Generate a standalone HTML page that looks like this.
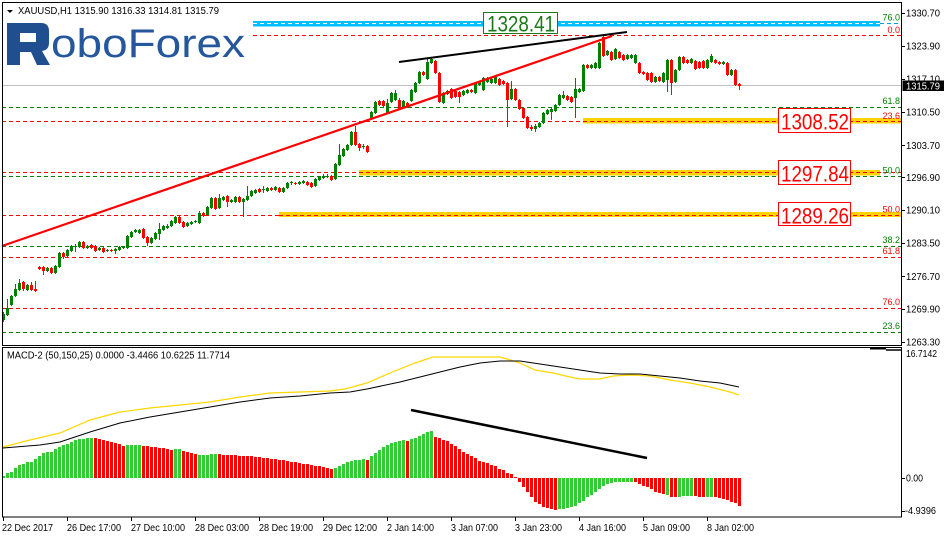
<!DOCTYPE html>
<html><head><meta charset="utf-8"><style>
html,body{margin:0;padding:0;background:#fff;}
svg{display:block;}
text{font-family:"Liberation Sans",sans-serif;}
</style></head><body>
<svg width="944" height="538" viewBox="0 0 944 538" xmlns="http://www.w3.org/2000/svg">
<rect x="0" y="0" width="944" height="538" fill="#fff"/>

<!-- fib / horizontal lines -->
<g stroke-width="1" fill="none" stroke-dasharray="4,3">
<line x1="253" y1="35.5" x2="901" y2="35.5" stroke="#ff0000"/>
<line x1="2" y1="107.5" x2="901" y2="107.5" stroke="#008000"/>
<line x1="2" y1="121.5" x2="901" y2="121.5" stroke="#ff0000"/>
<line x1="2" y1="172.5" x2="901" y2="172.5" stroke="#ff0000"/>
<line x1="2" y1="176.5" x2="901" y2="176.5" stroke="#008000"/>
<line x1="2" y1="215.5" x2="901" y2="215.5" stroke="#ff0000"/>
<line x1="2" y1="246.5" x2="901" y2="246.5" stroke="#008000"/>
<line x1="2" y1="257.5" x2="901" y2="257.5" stroke="#ff0000"/>
<line x1="2" y1="308.5" x2="901" y2="308.5" stroke="#ff0000"/>
<line x1="2" y1="332.5" x2="901" y2="332.5" stroke="#008000"/>
<line x1="880" y1="23.5" x2="901" y2="23.5" stroke="#00a0e0"/>
</g>
<line x1="2" y1="85.5" x2="901" y2="85.5" stroke="#c0c0c0" stroke-width="1"/>

<!-- yellow bands -->
<rect x="583" y="118" width="318" height="5.5" fill="#ffd200"/>
<line x1="583" y1="121.5" x2="901" y2="121.5" stroke="#ff0000" stroke-dasharray="4,3"/>
<rect x="359" y="170" width="521" height="5.5" fill="#ffd200"/>
<line x1="359" y1="172.5" x2="880" y2="172.5" stroke="#ff0000" stroke-dasharray="4,3"/>
<rect x="279" y="212" width="622" height="5" fill="#ffd200"/>
<line x1="279" y1="215.5" x2="901" y2="215.5" stroke="#ff0000" stroke-dasharray="4,3"/>

<!-- cyan band -->
<rect x="253" y="21" width="627" height="5.5" fill="#00bfff"/>
<line x1="253" y1="23.5" x2="880" y2="23.5" stroke="#ffffff" stroke-dasharray="4,3"/>

<!-- candles -->
<path fill="#008000" d="M2 314h3v6h-3zM6 308h3v7h-3zM10 296h3v9h-3zM14 289h3v7h-3zM18 283h3v7h-3zM26 285h3v5h-3zM46 268h3v3h-3zM54 266h3v7h-3zM58 253h3v14h-3zM66 250h3v6h-3zM70 246h3v5h-3zM74 246h3v1h-3zM78 242h3v5h-3zM86 246h3v2h-3zM98 248h3v2h-3zM106 250h3v1h-3zM114 249h3v2h-3zM118 247h3v3h-3zM122 247h3v1h-3zM126 236h3v12h-3zM130 232h3v5h-3zM134 230h3v2h-3zM138 230h3v3h-3zM150 238h3v5h-3zM154 233h3v6h-3zM158 229h3v5h-3zM162 226h3v4h-3zM166 226h3v2h-3zM170 221h3v5h-3zM174 217h3v6h-3zM186 223h3v3h-3zM190 222h3v2h-3zM194 221h3v1h-3zM198 213h3v10h-3zM206 207h3v8h-3zM210 198h3v10h-3zM218 198h3v10h-3zM222 197h3v3h-3zM230 200h3v2h-3zM234 197h3v5h-3zM242 199h3v3h-3zM246 196h3v4h-3zM250 191h3v5h-3zM254 190h3v3h-3zM262 189h3v1h-3zM266 188h3v3h-3zM274 187h3v3h-3zM282 188h3v4h-3zM286 183h3v5h-3zM290 182h3v1h-3zM298 182h3v2h-3zM302 181h3v2h-3zM314 179h3v7h-3zM318 177h3v3h-3zM322 176h3v2h-3zM326 176h3v1h-3zM334 164h3v15h-3zM338 155h3v10h-3zM342 149h3v7h-3zM346 145h3v5h-3zM350 132h3v13h-3zM362 146h3v1h-3zM370 112h3v6h-3zM374 102h3v11h-3zM386 103h3v10h-3zM390 93h3v9h-3zM394 93h3v7h-3zM402 101h3v6h-3zM410 90h3v11h-3zM414 83h3v9h-3zM418 72h3v11h-3zM426 62h3v17h-3zM430 59h3v4h-3zM442 93h3v10h-3zM446 91h3v3h-3zM462 91h3v4h-3zM466 90h3v3h-3zM474 83h3v10h-3zM478 82h3v3h-3zM482 78h3v12h-3zM486 78h3v4h-3zM490 79h3v4h-3zM494 77h3v6h-3zM510 89h3v10h-3zM534 126h3v3h-3zM538 123h3v4h-3zM542 113h3v10h-3zM546 110h3v4h-3zM550 109h3v3h-3zM554 105h3v6h-3zM558 95h3v10h-3zM562 95h3v3h-3zM574 89h3v9h-3zM578 89h3v3h-3zM582 65h3v26h-3zM590 65h3v3h-3zM594 63h3v5h-3zM598 43h3v25h-3zM606 51h3v4h-3zM614 49h3v10h-3zM626 55h3v4h-3zM630 55h3v3h-3zM634 55h3v8h-3zM654 77h3v5h-3zM662 73h3v9h-3zM666 60h3v20h-3zM674 70h3v12h-3zM678 57h3v13h-3zM690 59h3v4h-3zM706 60h3v8h-3zM710 56h3v6h-3zM722 62h3v2h-3zM730 70h3v5h-3z"/>
<path fill="none" stroke="#008000" stroke-width="1" d="M3.5 312V322M7.5 299V316M11.5 295V306M15.5 284V297M19.5 279V291M27.5 284V291M47.5 267V272M55.5 265V274M59.5 252V268M67.5 249V258M71.5 245V252M75.5 244V252M79.5 241V248M87.5 245V249M99.5 247V251M107.5 249V252M115.5 248V254M119.5 246V251M123.5 246V249M127.5 235V249M131.5 231V238M135.5 229V233M139.5 229V234M151.5 237V244M155.5 232V240M159.5 223V240M163.5 225V231M167.5 224V229M171.5 220V227M175.5 216V224M187.5 222V227M191.5 221V225M195.5 220V223M199.5 211V224M207.5 206V216M211.5 197V209M219.5 194V209M223.5 196V201M231.5 199V203M235.5 196V203M243.5 198V217M247.5 186V201M251.5 190V197M255.5 189V194M263.5 186V193M267.5 187V192M275.5 186V191M283.5 187V193M287.5 182V189M291.5 181V185M299.5 181V185M303.5 180V184M315.5 178V187M319.5 176V181M323.5 174V179M327.5 174V178M335.5 163V180M339.5 144V166M343.5 148V157M347.5 144V151M351.5 131V146M363.5 144V149M371.5 111V119M375.5 101V114M387.5 99V114M391.5 92V103M395.5 90V101M403.5 100V108M411.5 89V102M415.5 82V93M419.5 71V84M427.5 58V80M431.5 58V64M443.5 92V104M447.5 90V95M463.5 90V96M467.5 89V94M475.5 82V94M479.5 81V86M483.5 77V91M487.5 77V83M491.5 78V84M495.5 76V84M511.5 81V100M535.5 124V132M539.5 122V128M543.5 112V124M547.5 109V115M551.5 108V120M555.5 104V112M559.5 94V106M563.5 91V99M575.5 78V118M579.5 88V93M583.5 64V92M591.5 64V69M595.5 62V69M599.5 42V69M607.5 50V56M615.5 48V60M627.5 54V60M631.5 54V59M635.5 54V64M655.5 76V83M663.5 72V83M667.5 59V92M675.5 69V83M679.5 56V71M691.5 58V64M707.5 59V69M711.5 54V63M723.5 61V65M731.5 69V76"/>
<path fill="#ff0000" d="M22 282h3v7h-3zM30 285h3v5h-3zM34 289h3v2h-3zM38 267h3v2h-3zM42 267h3v4h-3zM50 268h3v5h-3zM62 253h3v4h-3zM82 242h3v6h-3zM90 245h3v3h-3zM94 246h3v5h-3zM102 248h3v4h-3zM110 250h3v1h-3zM142 229h3v9h-3zM146 237h3v6h-3zM178 217h3v6h-3zM182 222h3v5h-3zM202 213h3v3h-3zM214 198h3v11h-3zM226 196h3v6h-3zM238 197h3v5h-3zM258 189h3v3h-3zM270 188h3v2h-3zM278 188h3v4h-3zM294 183h3v1h-3zM306 182h3v3h-3zM310 183h3v4h-3zM330 176h3v4h-3zM354 132h3v13h-3zM358 144h3v4h-3zM366 146h3v6h-3zM378 101h3v4h-3zM382 101h3v5h-3zM398 100h3v9h-3zM406 103h3v4h-3zM422 72h3v3h-3zM434 61h3v12h-3zM438 73h3v29h-3zM450 89h3v9h-3zM454 91h3v6h-3zM458 92h3v5h-3zM470 90h3v2h-3zM498 79h3v6h-3zM502 81h3v3h-3zM506 83h3v17h-3zM514 89h3v11h-3zM518 100h3v9h-3zM522 108h3v10h-3zM526 117h3v11h-3zM530 127h3v2h-3zM566 96h3v4h-3zM570 97h3v5h-3zM586 65h3v3h-3zM602 37h3v19h-3zM610 52h3v8h-3zM618 52h3v6h-3zM622 55h3v5h-3zM638 63h3v10h-3zM642 72h3v2h-3zM646 73h3v7h-3zM650 73h3v9h-3zM658 77h3v4h-3zM670 60h3v23h-3zM682 57h3v6h-3zM686 60h3v3h-3zM694 61h3v8h-3zM698 62h3v6h-3zM702 61h3v7h-3zM714 60h3v3h-3zM718 62h3v2h-3zM726 63h3v12h-3zM734 70h3v15h-3zM738 84h3v2h-3z"/>
<path fill="none" stroke="#ff0000" stroke-width="1" d="M23.5 281V291M31.5 282V291M35.5 281V292M39.5 266V270M43.5 266V275M51.5 267V274M63.5 252V259M83.5 241V249M91.5 244V249M95.5 245V252M103.5 247V253M111.5 249V252M143.5 228V239M147.5 236V246M179.5 216V224M183.5 221V228M203.5 212V217M215.5 197V210M227.5 195V207M239.5 196V203M259.5 188V193M271.5 187V191M279.5 187V193M295.5 182V185M307.5 181V186M311.5 182V188M331.5 175V181M355.5 126V146M359.5 143V151M367.5 145V153M379.5 100V106M383.5 100V107M399.5 98V110M407.5 102V108M423.5 71V76M435.5 60V74M439.5 72V103M451.5 88V99M455.5 90V98M459.5 91V103M471.5 89V93M499.5 78V86M503.5 80V85M507.5 82V127M515.5 88V101M519.5 99V110M523.5 107V119M527.5 116V129M531.5 125V131M567.5 95V101M571.5 96V103M587.5 64V69M603.5 34V57M611.5 51V61M619.5 51V59M623.5 54V61M639.5 62V74M643.5 71V75M647.5 72V81M651.5 72V83M659.5 76V82M671.5 59V95M683.5 56V64M687.5 59V64M695.5 60V70M699.5 61V69M703.5 60V69M715.5 59V64M719.5 61V65M727.5 62V76M735.5 69V86M739.5 83V90"/>

<!-- trend lines -->
<line x1="2" y1="246" x2="612" y2="36" stroke="#ff0000" stroke-width="2.2"/>
<line x1="399" y1="62" x2="627" y2="32" stroke="#000" stroke-width="2"/>

<!-- label boxes -->
<rect x="483.5" y="12.5" width="74" height="21" fill="#fff" stroke="#1a7a1a" stroke-width="1"/>
<text x="487" y="31.5" font-size="22" fill="#1a7a1a" textLength="68" lengthAdjust="spacingAndGlyphs">1328.41</text>

<rect x="778.5" y="108.5" width="72" height="24" fill="#fff" stroke="#ff0000" stroke-width="1"/>
<text x="781" y="129.5" font-size="22" fill="#ff0000" textLength="68" lengthAdjust="spacingAndGlyphs">1308.52</text>
<rect x="778.5" y="160.5" width="72" height="24" fill="#fff" stroke="#ff0000" stroke-width="1"/>
<text x="781" y="181.5" font-size="22" fill="#ff0000" textLength="68" lengthAdjust="spacingAndGlyphs">1297.84</text>
<rect x="778.5" y="202.5" width="72" height="23" fill="#fff" stroke="#ff0000" stroke-width="1"/>
<text x="781" y="223.5" font-size="22" fill="#ff0000" textLength="68" lengthAdjust="spacingAndGlyphs">1289.26</text>

<!-- fib labels -->
<g font-size="9" text-anchor="end">
<text x="900" y="20.5" fill="#008000">76.0</text>
<text x="900" y="33" fill="#ff0000">0.0</text>
<text x="900" y="104" fill="#008000">61.8</text>
<text x="900" y="119" fill="#ff0000">23.6</text>
<text x="900" y="173.5" fill="#008000">50.0</text>
<text x="900" y="212.5" fill="#ff0000">50.0</text>
<text x="900" y="243" fill="#008000">38.2</text>
<text x="900" y="254" fill="#ff0000">61.8</text>
<text x="900" y="305" fill="#ff0000">76.0</text>
<text x="900" y="329" fill="#008000">23.6</text>
</g>

<!-- logo -->
<path fill="#1f4f8f" fill-rule="evenodd" d="M7 23H41Q49 23 49 31V43Q49 50 42 51L50 65H37L31 52H20V65H7ZM20 33H36V42H20Z"/>
<text x="51" y="57" font-size="40" fill="#24579c" textLength="194" lengthAdjust="spacingAndGlyphs">oboForex</text>

<!-- title -->
<path d="M7 10H13L10 13Z" fill="#000"/>
<text x="18" y="14" font-size="10" fill="#000" textLength="201" lengthAdjust="spacingAndGlyphs">XAUUSD,H1  1315.90 1316.33 1314.81 1315.79</text>

<!-- MACD -->
<path fill="#32cd32" d="M2 478h3v-2h-3zM6 478h3v-5h-3zM10 478h3v-6h-3zM14 478h3v-10h-3zM18 478h3v-13h-3zM22 478h3v-14h-3zM26 478h3v-16h-3zM30 478h3v-16h-3zM34 478h3v-19h-3zM38 478h3v-22h-3zM42 478h3v-25h-3zM46 478h3v-26h-3zM50 478h3v-26h-3zM54 478h3v-29h-3zM58 478h3v-31h-3zM62 478h3v-33h-3zM66 478h3v-34h-3zM70 478h3v-36h-3zM74 478h3v-38h-3zM78 478h3v-39h-3zM82 478h3v-39h-3zM86 478h3v-40h-3zM90 478h3v-40h-3zM126 478h3v-33h-3zM130 478h3v-33h-3zM134 478h3v-33h-3zM138 478h3v-33h-3zM174 478h3v-29h-3zM178 478h3v-29h-3zM198 478h3v-23h-3zM202 478h3v-23h-3zM206 478h3v-23h-3zM210 478h3v-24h-3zM214 478h3v-24h-3zM334 478h3v-10h-3zM338 478h3v-12h-3zM342 478h3v-14h-3zM346 478h3v-16h-3zM350 478h3v-17h-3zM354 478h3v-18h-3zM358 478h3v-18h-3zM362 478h3v-19h-3zM370 478h3v-22h-3zM374 478h3v-25h-3zM378 478h3v-28h-3zM382 478h3v-31h-3zM386 478h3v-33h-3zM390 478h3v-35h-3zM394 478h3v-36h-3zM398 478h3v-37h-3zM402 478h3v-38h-3zM410 478h3v-39h-3zM414 478h3v-40h-3zM418 478h3v-42h-3zM422 478h3v-44h-3zM426 478h3v-46h-3zM430 478h3v-47h-3zM558 478h3v31h-3zM562 478h3v31h-3zM566 478h3v30h-3zM570 478h3v29h-3zM574 478h3v28h-3zM578 478h3v25h-3zM582 478h3v23h-3zM586 478h3v19h-3zM590 478h3v17h-3zM594 478h3v14h-3zM598 478h3v11h-3zM602 478h3v8h-3zM606 478h3v6h-3zM610 478h3v5h-3zM614 478h3v4h-3zM618 478h3v4h-3zM622 478h3v4h-3zM626 478h3v4h-3zM630 478h3v4h-3zM666 478h3v17h-3zM678 478h3v19h-3zM682 478h3v18h-3zM686 478h3v18h-3zM690 478h3v18h-3zM706 478h3v19h-3zM710 478h3v19h-3z"/>
<path fill="#ff0000" d="M94 478h3v-40h-3zM98 478h3v-39h-3zM102 478h3v-38h-3zM106 478h3v-37h-3zM110 478h3v-36h-3zM114 478h3v-35h-3zM118 478h3v-34h-3zM122 478h3v-32h-3zM142 478h3v-32h-3zM146 478h3v-32h-3zM150 478h3v-31h-3zM154 478h3v-31h-3zM158 478h3v-30h-3zM162 478h3v-30h-3zM166 478h3v-29h-3zM170 478h3v-28h-3zM182 478h3v-27h-3zM186 478h3v-26h-3zM190 478h3v-25h-3zM194 478h3v-24h-3zM218 478h3v-24h-3zM222 478h3v-23h-3zM226 478h3v-23h-3zM230 478h3v-23h-3zM234 478h3v-23h-3zM238 478h3v-22h-3zM242 478h3v-22h-3zM246 478h3v-22h-3zM250 478h3v-22h-3zM254 478h3v-21h-3zM258 478h3v-21h-3zM262 478h3v-20h-3zM266 478h3v-20h-3zM270 478h3v-19h-3zM274 478h3v-19h-3zM278 478h3v-18h-3zM282 478h3v-18h-3zM286 478h3v-17h-3zM290 478h3v-16h-3zM294 478h3v-16h-3zM298 478h3v-15h-3zM302 478h3v-14h-3zM306 478h3v-14h-3zM310 478h3v-13h-3zM314 478h3v-12h-3zM318 478h3v-12h-3zM322 478h3v-11h-3zM326 478h3v-10h-3zM330 478h3v-9h-3zM366 478h3v-18h-3zM406 478h3v-37h-3zM434 478h3v-41h-3zM438 478h3v-40h-3zM442 478h3v-38h-3zM446 478h3v-37h-3zM450 478h3v-34h-3zM454 478h3v-32h-3zM458 478h3v-29h-3zM462 478h3v-26h-3zM466 478h3v-24h-3zM470 478h3v-22h-3zM474 478h3v-20h-3zM478 478h3v-17h-3zM482 478h3v-16h-3zM486 478h3v-15h-3zM490 478h3v-13h-3zM494 478h3v-12h-3zM498 478h3v-9h-3zM502 478h3v-8h-3zM506 478h3v-5h-3zM510 478h3v-4h-3zM514 478h3v-1h-3zM518 478h3v4h-3zM522 478h3v9h-3zM526 478h3v14h-3zM530 478h3v19h-3zM534 478h3v24h-3zM538 478h3v26h-3zM542 478h3v29h-3zM546 478h3v30h-3zM550 478h3v31h-3zM554 478h3v32h-3zM634 478h3v4h-3zM638 478h3v6h-3zM642 478h3v8h-3zM646 478h3v9h-3zM650 478h3v11h-3zM654 478h3v14h-3zM658 478h3v15h-3zM662 478h3v16h-3zM670 478h3v19h-3zM674 478h3v19h-3zM694 478h3v18h-3zM698 478h3v19h-3zM702 478h3v19h-3zM714 478h3v19h-3zM718 478h3v20h-3zM722 478h3v21h-3zM726 478h3v22h-3zM730 478h3v24h-3zM734 478h3v25h-3zM738 478h3v28h-3z"/>
<polyline fill="none" stroke="#ffd700" stroke-width="1.2" points="3,447 30,440 60,433 90,420 120,412 150,408 180,405 210,402 240,397 270,393 300,392 330,391 345,389 367,383 390,373 415,363 433,357 460,357 500,357 507,359 520,363 535,370 553,373 570,377 580,379 600,379 613,376 630,375 650,376 670,380 690,383 710,387 730,392 739,395"/>
<polyline fill="none" stroke="#000" stroke-width="1" points="3,448 40,445 60,442 90,432 120,423 150,417 180,412 210,407 240,402 270,398 300,396 330,393 350,392 367,389 400,382 420,377 440,372 460,367 480,363 500,361 520,361 540,364 560,367 580,370 600,373 620,374 640,374 660,376 680,378 700,381 720,383 739,387"/>
<line x1="411" y1="410" x2="647" y2="458" stroke="#000" stroke-width="2.5"/>
<line x1="870" y1="348.5" x2="886" y2="348.5" stroke="#000" stroke-width="2"/>
<line x1="886" y1="350" x2="901" y2="350" stroke="#000" stroke-width="1.5"/>
<text x="7" y="358.5" font-size="10" fill="#000" textLength="223" lengthAdjust="spacingAndGlyphs">MACD-2 (50,150,25) 0.0000 -3.4466 10.6225 11.7714</text>

<!-- frames -->
<rect x="2.5" y="2.5" width="899" height="343" fill="none" stroke="#000" stroke-width="1"/>
<rect x="2.5" y="347.5" width="899" height="169.5" fill="none" stroke="#000" stroke-width="1"/>

<!-- price axis -->
<g stroke="#000" stroke-width="1">
<line x1="901" y1="13.5" x2="905" y2="13.5"/>
<line x1="901" y1="46.5" x2="905" y2="46.5"/>
<line x1="901" y1="79.5" x2="905" y2="79.5"/>
<line x1="901" y1="112.5" x2="905" y2="112.5"/>
<line x1="901" y1="145.5" x2="905" y2="145.5"/>
<line x1="901" y1="177.5" x2="905" y2="177.5"/>
<line x1="901" y1="210.5" x2="905" y2="210.5"/>
<line x1="901" y1="243.5" x2="905" y2="243.5"/>
<line x1="901" y1="276.5" x2="905" y2="276.5"/>
<line x1="901" y1="309.5" x2="905" y2="309.5"/>
<line x1="901" y1="342.5" x2="905" y2="342.5"/>
<line x1="901" y1="478.5" x2="905" y2="478.5"/>
<line x1="901" y1="511.5" x2="905" y2="511.5"/>
</g>
<g font-size="10" fill="#000">
<text x="906" y="16.6" textLength="34" lengthAdjust="spacingAndGlyphs">1330.70</text>
<text x="906" y="49.5" textLength="34" lengthAdjust="spacingAndGlyphs">1323.90</text>
<text x="906" y="82.5" textLength="34" lengthAdjust="spacingAndGlyphs">1317.10</text>
<text x="906" y="115.6" textLength="34" lengthAdjust="spacingAndGlyphs">1310.50</text>
<text x="906" y="148.8" textLength="34" lengthAdjust="spacingAndGlyphs">1303.70</text>
<text x="906" y="181" textLength="34" lengthAdjust="spacingAndGlyphs">1296.90</text>
<text x="906" y="213.5" textLength="34" lengthAdjust="spacingAndGlyphs">1290.10</text>
<text x="906" y="246.6" textLength="34" lengthAdjust="spacingAndGlyphs">1283.50</text>
<text x="906" y="280" textLength="34" lengthAdjust="spacingAndGlyphs">1276.70</text>
<text x="906" y="312.7" textLength="34" lengthAdjust="spacingAndGlyphs">1269.90</text>
<text x="906" y="345.5" textLength="34" lengthAdjust="spacingAndGlyphs">1263.30</text>
<text x="906" y="357" textLength="31" lengthAdjust="spacingAndGlyphs">16.7142</text>
<text x="906" y="481.5" textLength="17" lengthAdjust="spacingAndGlyphs">0.00</text>
<text x="905" y="514" textLength="31" lengthAdjust="spacingAndGlyphs">-4.9396</text>
</g>
<rect x="902.5" y="80.5" width="41.5" height="10.5" fill="#000"/>
<text x="906" y="89.5" font-size="10" fill="#fff" textLength="34" lengthAdjust="spacingAndGlyphs">1315.79</text>

<!-- time axis -->
<g stroke="#000" stroke-width="1">
<line x1="3.5" y1="517" x2="3.5" y2="521"/>
<line x1="67.5" y1="517" x2="67.5" y2="521"/>
<line x1="131.5" y1="517" x2="131.5" y2="521"/>
<line x1="195.5" y1="517" x2="195.5" y2="521"/>
<line x1="259.5" y1="517" x2="259.5" y2="521"/>
<line x1="323.5" y1="517" x2="323.5" y2="521"/>
<line x1="387.5" y1="517" x2="387.5" y2="521"/>
<line x1="451.5" y1="517" x2="451.5" y2="521"/>
<line x1="515.5" y1="517" x2="515.5" y2="521"/>
<line x1="579.5" y1="517" x2="579.5" y2="521"/>
<line x1="643.5" y1="517" x2="643.5" y2="521"/>
<line x1="707.5" y1="517" x2="707.5" y2="521"/>
</g>
<g font-size="10.5" fill="#000">
<text x="2" y="531" textLength="51" lengthAdjust="spacingAndGlyphs">22 Dec 2017</text>
<text x="67" y="531" textLength="54" lengthAdjust="spacingAndGlyphs">26 Dec 17:00</text>
<text x="131" y="531" textLength="54" lengthAdjust="spacingAndGlyphs">27 Dec 10:00</text>
<text x="195" y="531" textLength="54" lengthAdjust="spacingAndGlyphs">28 Dec 03:00</text>
<text x="259" y="531" textLength="54" lengthAdjust="spacingAndGlyphs">28 Dec 19:00</text>
<text x="323" y="531" textLength="54" lengthAdjust="spacingAndGlyphs">29 Dec 12:00</text>
<text x="387" y="531" textLength="47" lengthAdjust="spacingAndGlyphs">2 Jan 14:00</text>
<text x="451" y="531" textLength="47" lengthAdjust="spacingAndGlyphs">3 Jan 07:00</text>
<text x="515" y="531" textLength="47" lengthAdjust="spacingAndGlyphs">3 Jan 23:00</text>
<text x="579" y="531" textLength="47" lengthAdjust="spacingAndGlyphs">4 Jan 16:00</text>
<text x="643" y="531" textLength="47" lengthAdjust="spacingAndGlyphs">5 Jan 09:00</text>
<text x="707" y="531" textLength="47" lengthAdjust="spacingAndGlyphs">8 Jan 02:00</text>
</g>
</svg>
</body></html>
